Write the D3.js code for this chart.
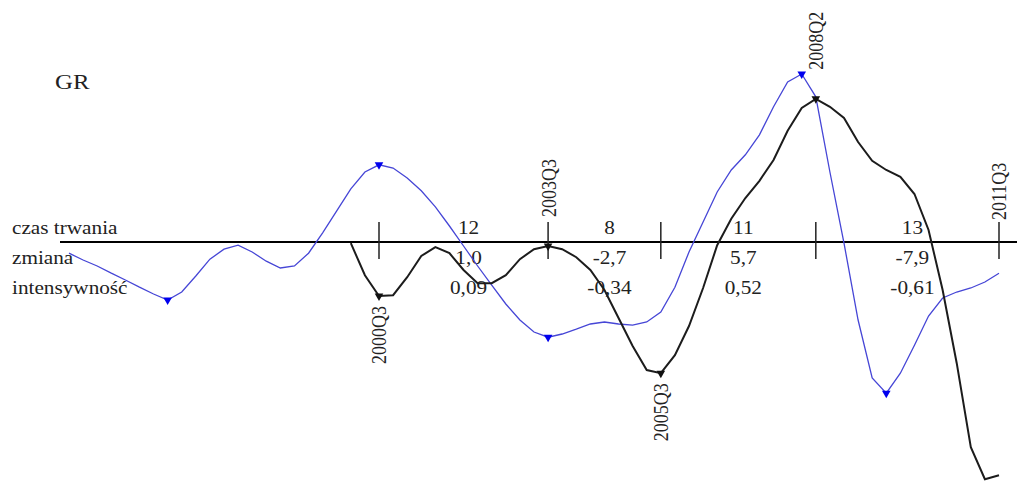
<!DOCTYPE html>
<html>
<head>
<meta charset="utf-8">
<script src="https://cdn.jsdelivr.net/npm/d3@7"></script>
<style>
  html, body { margin: 0; padding: 0; background: #fff; }
  svg { display: block; }
  text { font-family: "Liberation Serif", "Times New Roman", serif; fill: #222; }
</style>
</head>
<body>
<svg id="chart" width="1017" height="484"></svg>
<script>
// Quarterly calendar from 1995Q1 to 2011Q3
const quarters = [];
for (let yr = 1995; yr <= 2011; yr++) for (let q = 1; q <= 4; q++) quarters.push(yr + "Q" + q);
quarters.splice(quarters.indexOf("2011Q3") + 1);

// Reference cycle (blue), 1995Q1–2011Q3
const referenceCycle = [
  -0.28, -0.45, -0.60, -0.78, -0.95, -1.13, -1.30, -1.45,
  -1.25, -0.85, -0.43, -0.18, -0.08, -0.25, -0.48, -0.65,
  -0.60, -0.28, 0.23, 0.78, 1.33, 1.75, 1.93, 1.85,
  1.60, 1.28, 0.88, 0.40, -0.10, -0.60, -1.08, -1.55,
  -1.95, -2.25, -2.38, -2.30, -2.18, -2.05, -2.00, -2.05,
  -2.08, -2.00, -1.75, -1.13, -0.25, 0.50, 1.25, 1.80,
  2.18, 2.68, 3.38, 4.00, 4.20, 3.63, 1.75, -0.03,
  -1.95, -3.40, -3.78, -3.28, -2.58, -1.85, -1.40, -1.25,
  -1.15, -1.00, -0.78
];
const referenceStart = "1995Q1";

// GR cycle (black), 2000Q1–2011Q3
const grCycle = [
  -0.03, -0.83, -1.35, -1.33, -0.88, -0.35, -0.13, -0.28,
  -0.70, -1.03, -1.03, -0.83, -0.43, -0.18, -0.10, -0.18,
  -0.38, -0.70, -1.20, -1.90, -2.60, -3.20, -3.28, -2.83,
  -2.10, -1.15, -0.08, 0.58, 1.10, 1.53, 2.05, 2.78,
  3.35, 3.58, 3.38, 3.10, 2.50, 2.03, 1.80, 1.63,
  1.20, 0.30, -1.20, -3.03, -5.13, -5.93, -5.83
];
const grStart = "2000Q1";

// Turning points
const referenceTurns = ["1996Q4", "2000Q3", "2003Q3", "2008Q1", "2009Q3"];
const grTurns = ["2000Q3", "2003Q3", "2005Q3", "2008Q2"];
const phaseBounds = ["2000Q3", "2003Q3", "2005Q3", "2008Q2", "2011Q3"];
const boundSide = ["below", "above", "below", "above", "above"];

// Phase statistics
const rowLabels = ["czas trwania", "zmiana", "intensywność"];
const phaseDuration = [12, 8, 11, 13];
const phaseChange = [1.0, -2.7, 5.7, -7.9];
const phaseIntensity = [0.09, -0.34, 0.52, -0.61];

const plLocale = d3.formatLocale({ decimal: ",", thousands: " ", grouping: [3], currency: ["", " zł"], minus: "-" });
const fmt1 = plLocale.format(".1f");
const fmt2 = plLocale.format(".2f");

const svg = d3.select("#chart");
const stretch = 1.18;

const x = d3.scaleLinear().domain([0, quarters.length - 1]).range([69, 999]);
const y = d3.scaleLinear().domain([-6, 4.5]).range([482, 62]);
const qi = q => quarters.indexOf(q);

const refPts = referenceCycle.map((v, i) => ({ i: qi(referenceStart) + i, v }));
const grPts = grCycle.map((v, i) => ({ i: qi(grStart) + i, v }));
const valAt = (pts, q) => pts.find(p => p.i === qi(q)).v;

const line = d3.line().x(d => x(d.i)).y(d => y(d.v)).curve(d3.curveLinear);

// Title
svg.append("text")
  .attr("transform", `translate(55,89) scale(${stretch},1)`)
  .attr("font-size", 21)
  .text("GR");

// Zero line with phase boundaries
const y0 = y(0);
svg.append("line")
  .attr("x1", 60).attr("x2", 1017).attr("y1", y0).attr("y2", y0)
  .attr("stroke", "#000").attr("stroke-width", 2);

const tickTop = y0 - 20, tickBot = y0 + 17;
svg.append("g").selectAll("line").data(phaseBounds).join("line")
  .attr("x1", d => x(qi(d))).attr("x2", d => x(qi(d)))
  .attr("y1", tickTop).attr("y2", tickBot)
  .attr("stroke", "#222").attr("stroke-width", 1.5);

// Row labels
const rowY = [y0 - 8, y0 + 22, y0 + 52];
svg.append("g").selectAll("text").data(rowLabels).join("text")
  .attr("transform", (d, i) => `translate(12,${rowY[i]}) scale(${stretch},1)`)
  .attr("font-size", 18)
  .text(d => d);

// Phase statistics, centred in each phase
const phases = phaseDuration.map((d, i) => ({
  cx: (x(qi(phaseBounds[i])) + x(qi(phaseBounds[i + 1]))) / 2 + 5,
  vals: [String(d), fmt1(phaseChange[i]), fmt2(phaseIntensity[i])]
}));
const statG = svg.append("g");
phases.forEach(p => {
  p.vals.forEach((t, r) => {
    statG.append("text")
      .attr("transform", `translate(${p.cx},${rowY[r]}) scale(${stretch},1)`)
      .attr("text-anchor", "middle")
      .attr("font-size", 18)
      .text(t);
  });
});

// Series
svg.append("path").datum(refPts)
  .attr("d", line).attr("fill", "none")
  .attr("stroke", "#4646d6").attr("stroke-width", 1.3);
svg.append("path").datum(grPts)
  .attr("d", line).attr("fill", "none")
  .attr("stroke", "#1c1c1c").attr("stroke-width", 2);

// Turning-point markers
const tri = d3.symbol(d3.symbolTriangle, 32);
svg.append("g").selectAll("path").data(referenceTurns).join("path")
  .attr("d", tri)
  .attr("transform", d => `translate(${x(qi(d))},${y(valAt(refPts, d))}) rotate(180)`)
  .attr("fill", "#0000ee");
svg.append("g").selectAll("path").data(grTurns).join("path")
  .attr("d", tri)
  .attr("transform", d => `translate(${x(qi(d))},${y(valAt(grPts, d))}) rotate(180)`)
  .attr("fill", "#111");

// Date labels at phase boundaries
svg.append("g").selectAll("text").data(phaseBounds).join("text")
  .attr("transform", (d, i) => {
    const px = x(qi(d));
    const gy = y(valAt(grPts, d));
    const py = boundSide[i] === "below" ? gy + 10 : Math.min(tickTop - 2, gy - 29);
    return `translate(${px},${py}) scale(${stretch},1) rotate(-90)`;
  })
  .attr("text-anchor", (d, i) => boundSide[i] === "below" ? "end" : "start")
  .attr("dy", "0.35em")
  .attr("font-size", 18)
  .text(d => d);
</script>
</body>
</html>
